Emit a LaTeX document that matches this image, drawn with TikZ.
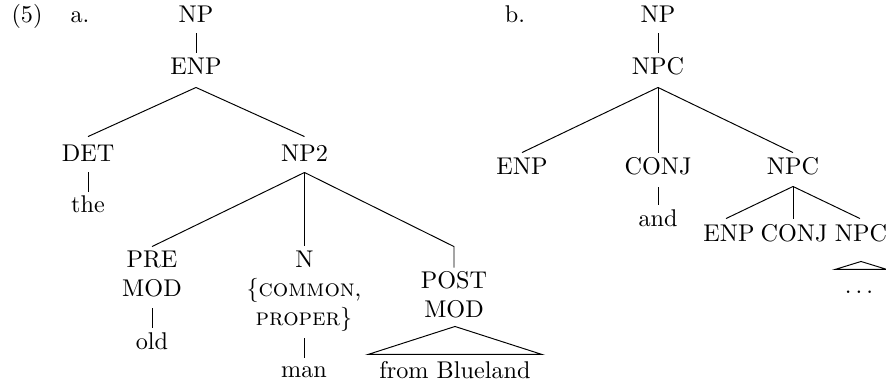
\documentclass[tikz,border=0pt]{standalone}
\usetikzlibrary{calc}
\begin{document}
\begin{tikzpicture}[x=0.4132pt,y=-0.4132pt,
  tx/.style={inner sep=0pt,anchor=base,text height=7pt,text depth=0pt},
  edge/.style={line width=0.4pt}]
\useasboundingbox (0,0) rectangle (886,385);
% labels
\node[tx] (lbl5) at (27,23) {(5)};
\node[tx] (lblA) at (80,23) {a.};
\node[tx] (lblB) at (515,23) {b.};
% tree a
\node[tx] (npA) at (196,23) {NP};
\node[tx] (enpA) at (196,75) {ENP};
\node[tx] (det) at (88,162) {DET};
\node[tx] (the) at (88,213) {the};
\node[tx] (np2) at (304.5,162) {NP2};
\node[tx] (pre) at (152,268) {PRE};
\node[tx] (mod1) at (152,297) {MOD};
\node[tx] (old) at (152,350) {old};
\node[tx] (n) at (304.5,268) {N};
\node[tx] (common) at (304,297) {\{\textsc{common},};
\node[tx] (proper) at (304,326) {\textsc{proper}\}};
\node[tx] (man) at (304,378) {man};
\node[tx] (post) at (454,289) {POST};
\node[tx] (mod2) at (454,318) {MOD};
\node[tx] (fromB) at (455,379) {from Blueland};
\draw[edge] ($(npA.south)+(0,10)$) -- ($(enpA.north)+(0,-5)$);
\draw[edge] ($(enpA.south)+(0,12)$) -- ($(det.north)+(0,-8)$);
\draw[edge] ($(enpA.south)+(0,12)$) -- ($(np2.north)+(0,-8)$);
\draw[edge] ($(det.south)+(0,10)$) -- ($(the.north)+(0,-4)$);
\draw[edge] ($(np2.south)+(0,10)$) -- ($(pre.north)+(0,-4)$);
\draw[edge] ($(np2.south)+(0,10)$) -- ($(n.north)+(0,-5)$);
\draw[edge] ($(np2.south)+(0,10)$) -- ($(post.north)+(0,-25)$) -- ($(post.north)+(0,-4)$);
\draw[edge] ($(mod1.south)+(0,11)$) -- ($(old.north)+(0,-5)$);
\draw[edge] ($(proper.south)+(0,12)$) -- ($(man.north)+(0,-3)$);
\draw[edge] ($(mod2.south)+(1,8)$) -- ++(-87,28) -- ++(174,0) -- cycle;
% tree b
\node[tx] (npB) at (658,23) {NP};
\node[tx] (npcB) at (658,75) {NPC};
\node[tx] (enpB) at (522,175) {ENP};
\node[tx] (conjB) at (658,175) {CONJ};
\node[tx] (npcB2) at (793,175) {NPC};
\node[tx] (andB) at (658,227) {and};
\node[tx] (enpC) at (729,242) {ENP};
\node[tx] (conjC) at (794,242) {CONJ};
\node[tx] (npcC) at (861,242) {NPC};
\node[tx] (dotsC) at (859,294) {$\ldots$};
\draw[edge] ($(npB.south)+(0,10)$) -- ($(npcB.north)+(0,-5)$);
\draw[edge] ($(npcB.south)+(0,12)$) -- ($(enpB.north)+(0,-5)$);
\draw[edge] ($(npcB.south)+(0,12)$) -- ($(conjB.north)+(0,-5)$);
\draw[edge] ($(npcB.south)+(0,12)$) -- ($(npcB2.north)+(0,-5)$);
\draw[edge] ($(conjB.south)+(0,12)$) -- ($(andB.north)+(0,-5)$);
\draw[edge] ($(npcB2.south)+(0,11)$) -- ($(enpC.north)+(-3,-6)$);
\draw[edge] ($(npcB2.south)+(0,11)$) -- ($(conjC.north)+(-1,-6)$);
\draw[edge] ($(npcB2.south)+(0,11)$) -- ($(npcC.north)+(-1,-6)$);
\draw[edge] ($(npcC.south)+(0,19)$) -- ++(-26,8) -- ++(52,0) -- cycle;
\end{tikzpicture}
\end{document}
